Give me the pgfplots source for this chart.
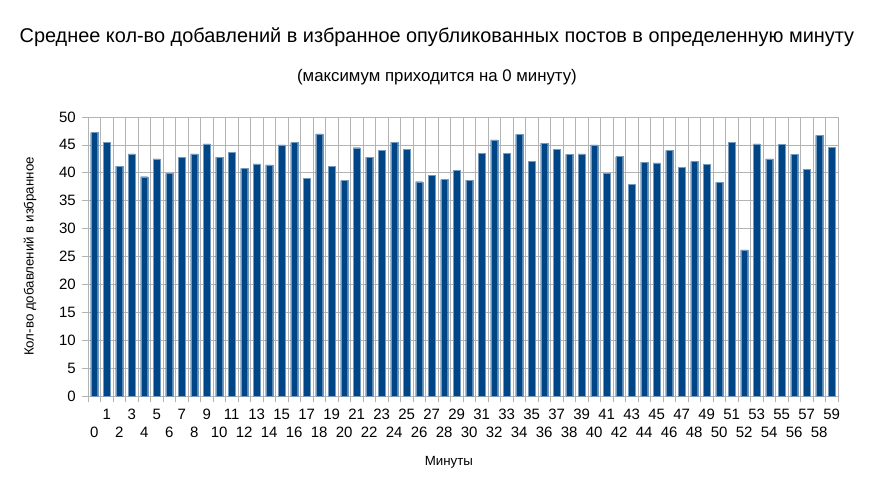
\documentclass[border=0pt]{standalone}
\usepackage{fontspec}
\setmainfont{Liberation Sans}
\usepackage{pgfplots}
\pgfplotsset{compat=1.18}
\definecolor{barblue}{HTML}{004586}
\definecolor{gridgray}{HTML}{B3B3B3}
\begin{document}
\begin{tikzpicture}
\begin{axis}[
  scale only axis,
  width=750pt, height=279pt,
  xmin=-0.5, xmax=59.5,
  ymin=0, ymax=50,
  clip=false,
  axis line style={gridgray},
  tick style={gridgray, line width=0.8pt},
  tick align=outside,
  tick pos=left,
  xtick={0,2,...,58},
  major x tick style={draw=none},
  minor xtick={-0.5,0.5,...,59.5},
  minor tick length=6pt,
  xminorgrids=true,
  minor x grid style={gridgray, line width=0.8pt},
  ytick={0,5,...,50},
  major tick length=6pt,
  ymajorgrids=true,
  major y grid style={gridgray, line width=0.8pt},
  /pgf/number format/assume math mode=true,
  tick label style={font=\fontsize{15}{17}\selectfont},
  xticklabel style={inner sep=0pt, anchor=north, yshift=-25pt},
  yticklabel style={inner sep=0pt, anchor=east, xshift=-6pt},
  extra x ticks={1,3,...,59},
  extra x tick style={grid=none, major tick length=0pt, xticklabel style={yshift=12pt}},
  xlabel={Минуты},
  ylabel={Кол-во добавлений в избранное},
  every axis x label/.style={at={(rel axis cs:0.4813,-0.2366)}, anchor=center, font=\fontsize{13.3}{15}\selectfont},
  every axis y label/.style={at={(rel axis cs:-0.0773,0.5)}, rotate=90, anchor=center, font=\fontsize{13.3}{15}\selectfont},
  ybar, bar width=0.56,
]
\addplot[fill=barblue, draw=barblue!55!white, line width=0.4pt] coordinates {
(0,47.2) (1,45.5) (2,41.2) (3,43.4) (4,39.3) (5,42.5) (6,39.9) (7,42.8) (8,43.4) (9,45.2)
(10,42.8) (11,43.7) (12,40.8) (13,41.6) (14,41.4) (15,45.0) (16,45.4) (17,39.0) (18,47.0) (19,41.2)
(20,38.6) (21,44.5) (22,42.8) (23,44.0) (24,45.5) (25,44.2) (26,38.4) (27,39.5) (28,38.8) (29,40.5)
(30,38.7) (31,43.5) (32,45.9) (33,43.5) (34,46.9) (35,42.0) (36,45.3) (37,44.2) (38,43.3) (39,43.4)
(40,45.0) (41,39.9) (42,42.9) (43,37.9) (44,41.9) (45,41.8) (46,44.0) (47,41.0) (48,42.0) (49,41.5)
(50,38.3) (51,45.5) (52,26.2) (53,45.2) (54,42.5) (55,45.1) (56,43.3) (57,40.6) (58,46.7) (59,44.6)
};
\node[anchor=base, inner sep=0pt, font=\fontsize{19.9}{23}\selectfont] at (rel axis cs:0.4653,1.266) {Среднее кол-во добавлений в избранное опубликованных постов в определенную минуту};
\node[anchor=base, inner sep=0pt, font=\fontsize{16.8}{19}\selectfont] at (rel axis cs:0.4653,1.127) {(максимум приходится на 0 минуту)};
\path[draw=none] (rel axis cs:-0.1173,-0.344) rectangle (rel axis cs:1.0467,1.4194);
\end{axis}
\end{tikzpicture}
\end{document}
